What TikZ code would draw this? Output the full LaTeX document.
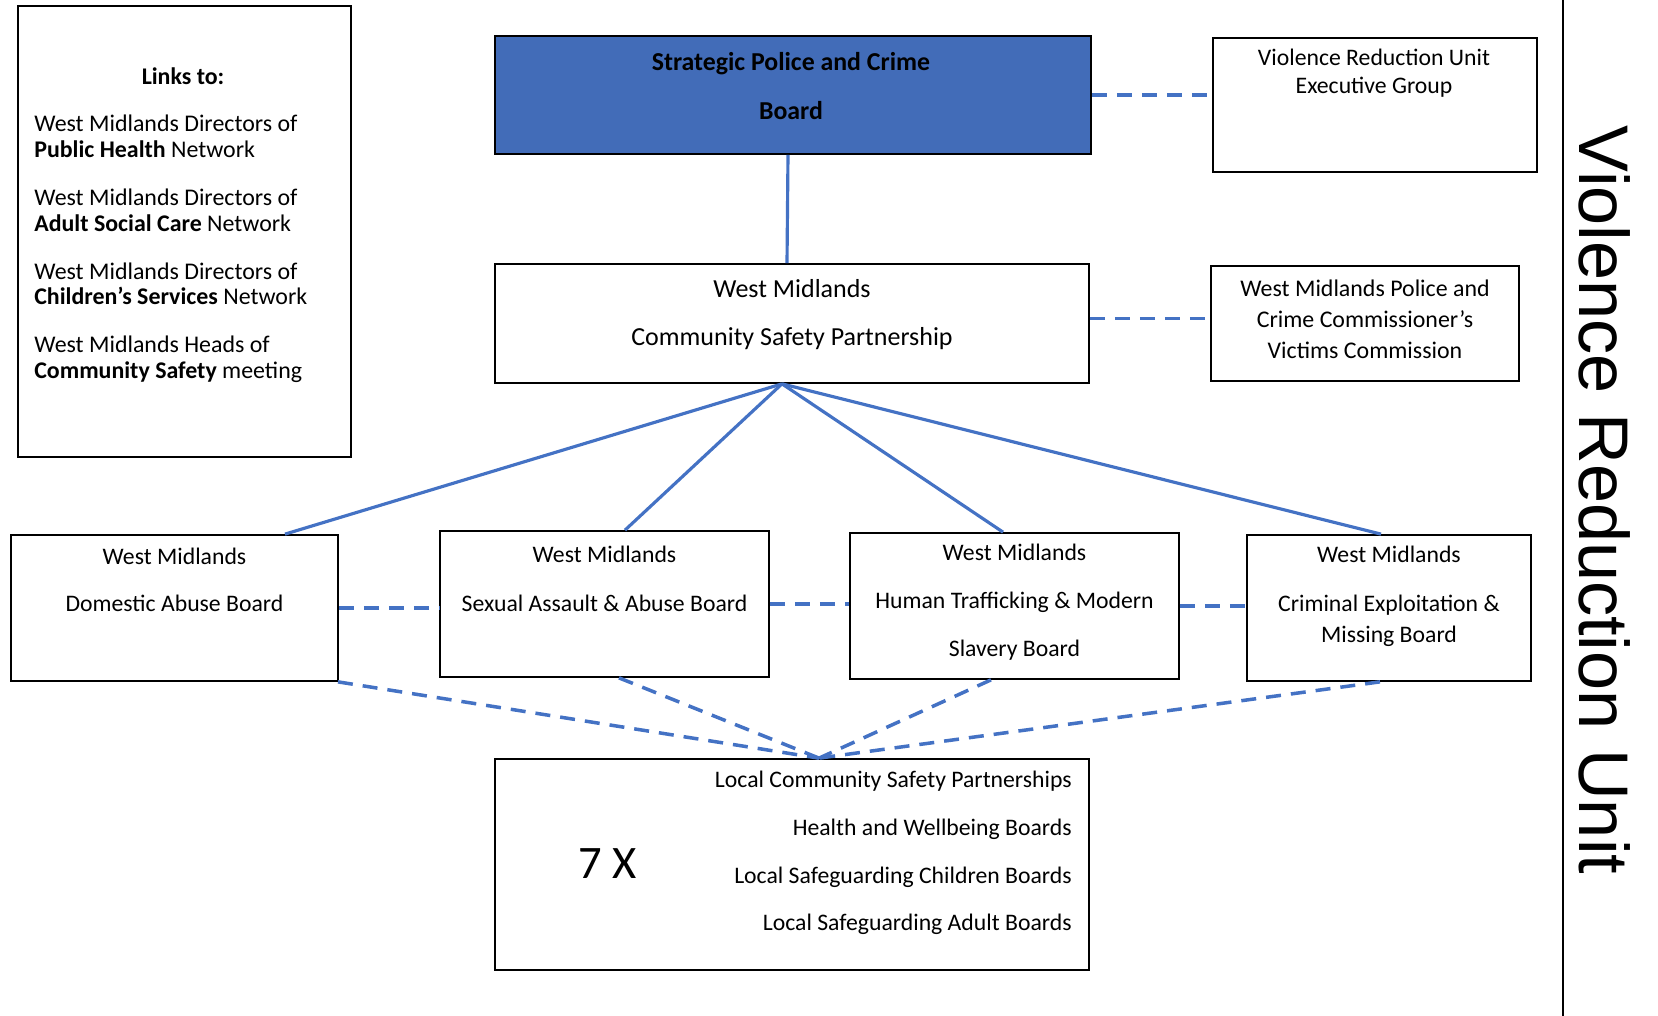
\documentclass[tikz,border=0pt]{standalone}
\usepackage{fontspec}
\setmainfont{Carlito}
\newfontfamily\vrufont{Liberation Sans}
\usetikzlibrary{positioning}
\usetikzlibrary{calc}
\definecolor{vrublue}{RGB}{68,114,196}
\definecolor{boardfill}{RGB}{66,108,184}
\tikzstyle{box}=[rectangle,draw=black,line width=1pt,fill=white,inner sep=0pt]
\tikzstyle{boardbox}=[box,fill=boardfill]
\tikzstyle{boxtext}=[align=center,inner sep=0pt]
\tikzstyle{link} = [draw,vrublue,line width=1.8pt]
\tikzstyle{dashlink} = [draw,vrublue,line width=2pt,dash pattern=on 0.3cm off 0.2cm]

\begin{document}
\begin{tikzpicture}[x=0.02cm,y=-0.02cm]
    \useasboundingbox (0,0) rectangle (1658,1016);
    % First we draw the boxes
    \node[boardbox, minimum width=11.92cm, minimum height=2.36cm] (strat) at (793,95) {};
    \foreach \pos/\name/\w/\h in {{(184.5,231.5)/links/6.66/9.02}, {(1375,105)/vru/6.48/2.68}, {(792,323.5)/csp/11.88/2.38}, {(1365,323.5)/vic/6.16/2.30}, {(174.5,608)/da/6.54/2.92}, {(604.5,604)/sa/6.58/2.92}, {(1014.5,606)/ht/6.58/2.92}, {(1389,608)/ce/5.68/2.92}, {(792,864.5)/local/11.88/4.22}}
        \node[box, minimum width=\w cm, minimum height=\h cm] (\name) at \pos {};

    % then the texts
    \node[boxtext, font=\fontsize{13.6}{15}\selectfont\bfseries] (linkshead) at (183,76) {Links to:};
    \node[boxtext, align=left, anchor=west, font=\fontsize{13.6}{14.7}\selectfont] (linkslist) at (34,249)
        {West Midlands Directors of\\\textbf{Public Health} Network\\[12.5pt]
         West Midlands Directors of\\\textbf{Adult Social Care} Network\\[12.5pt]
         West Midlands Directors of\\\textbf{Children’s Services} Network\\[12.5pt]
         West Midlands Heads of\\\textbf{Community Safety} meeting};
    \node[boxtext, font=\fontsize{14.7}{28.3}\selectfont\bfseries] (strattext) at (791,86) {Strategic Police and Crime\\Board};
    \node[boxtext, font=\fontsize{13.5}{15.9}\selectfont] (vrutext) at (1374,73) {Violence Reduction Unit\\Executive Group};
    \node[boxtext, font=\fontsize{14.8}{27.8}\selectfont] (csptext) at (792,314.5) {West Midlands\\Community Safety Partnership};
    \node[boxtext, font=\fontsize{13.6}{17.6}\selectfont] (victext) at (1365,319) {West Midlands Police and\\Crime Commissioner’s\\Victims Commission};
    \node[boxtext, font=\fontsize{13.5}{26.6}\selectfont] (datext) at (174.5,579.5) {West Midlands\\Domestic Abuse Board};
    \node[boxtext, font=\fontsize{13.5}{27.8}\selectfont] (satext) at (604.5,578.5) {West Midlands\\Sexual Assault \& Abuse Board};
    \node[boxtext, font=\fontsize{13.5}{27.2}\selectfont] (httext) at (1014.5,602) {West Midlands\\Human Trafficking \& Modern\\Slavery Board};
    \node[boxtext, font=\fontsize{13.5}{18.1}\selectfont] (cetext) at (1389,596.5) {West Midlands\\[9.6pt]Criminal Exploitation \&\\Missing Board};
    \node[boxtext, align=right, anchor=east, font=\fontsize{13.5}{27.2}\selectfont] (localtext) at (1072,853)
        {Local Community Safety Partnerships\\Health and Wellbeing Boards\\Local Safeguarding Children Boards\\Local Safeguarding Adult Boards};
    \node[boxtext, font=\fontsize{26.5}{32}\selectfont] (seven) at (608,864) {7 X};

    % side title
    \coordinate (divtop) at (1563,0);
    \coordinate (divbot) at (1563,1016);
    \draw[line width=1pt] (divtop) -- (divbot);
    \node[font=\vrufont\fontsize{40}{48}\selectfont, rotate=-90] (vrutitle) at (1605,500) {Violence Reduction Unit};

    % Connect boxes
    \path[link] ([xshift=-0.1cm]strat.south) -- ([xshift=-0.1cm]csp.north);
    \coordinate (csphub) at ([xshift=-0.2cm]csp.south);
    \foreach \dest/\dx in {da/2.21, sa/0.41, ht/-0.23, ce/-0.16}
        \path[link] (csphub) -- ([xshift=\dx cm]\dest.north);
    \path[dashlink] (strat.east) -- (strat.east -| vru.west);
    \path[dashlink] ([yshift=0.1cm]csp.east) -- ([yshift=0.1cm]csp.east -| vic.west);
    \foreach \source/\dest in {da/sa, sa/ht, ht/ce}
        \path[dashlink] (\source.east) -- (\source.east -| \dest.west);
    \coordinate (localhub) at ([xshift=0.54cm]local.north);
    \foreach \source/\dx in {da/3.27, sa/0.29, ht/-0.47, ce/-0.18}
        \path[dashlink] ([xshift=\dx cm]\source.south) -- (localhub);
\end{tikzpicture}
\end{document}
